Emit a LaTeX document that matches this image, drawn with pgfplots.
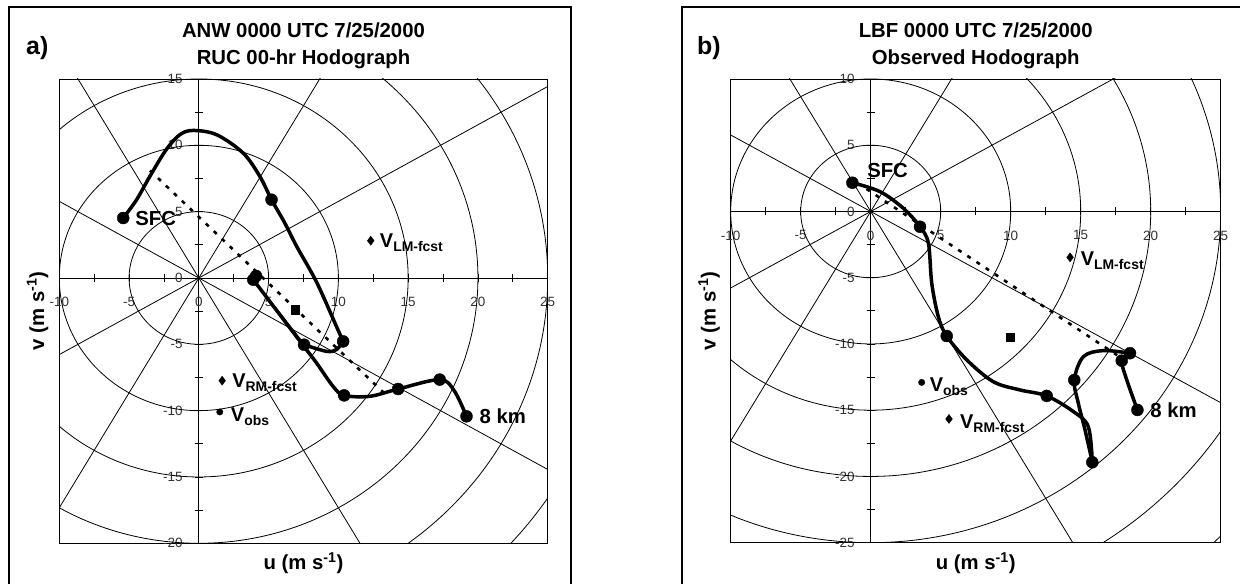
\documentclass[border=0pt]{standalone}
\usepackage{fontspec}
\setmainfont{Liberation Sans}
\usepackage{pgfplots}
\pgfplotsset{compat=1.18}

\newcommand{\vlab}[1]{{\fontsize{20}{20}\selectfont\bfseries V}\raisebox{-4bp}{\fontsize{14}{14}\selectfont\bfseries #1}}
\newcommand{\bigf}{\fontsize{20.4}{24}\selectfont\bfseries}

\tikzset{
  gridl/.style={line width=0.8bp, black},
  dotted line/.style={line width=2.6bp, black, dash pattern=on 4bp off 7bp},
}
\pgfplotsset{
  hodo/.style={
    scale only axis,
    axis lines=middle,
    axis line style={-, line width=0.9bp, black},
    xmin=-10, xmax=25,
    xtick={-10,-5,...,25},
    minor xtick={-7.5,-2.5,...,22.5},
    tick align=center,
    major tick length=8bp, minor tick length=8bp,
    tick style={black, line width=0.8bp},
    hide obscured x ticks=false, hide obscured y ticks=false,
    /pgf/number format/assume math mode=true,
    ticklabel style={font=\fontsize{13.5}{13.5}\selectfont, text=black!80},
    xticklabel style={inner sep=0pt, anchor=north, yshift=-15bp},
    yticklabel style={inner sep=0pt, anchor=east, xshift=-12bp},
    clip=true,
  },
  curve/.style={line width=3.5bp, black, smooth, tension=0.55},
  dots/.style={only marks, mark=*, mark size=6bp, black},
}

\begin{document}
\begin{tikzpicture}[x=1bp,y=1bp]
\useasboundingbox (0,0) rectangle (1240,584);
% outer frames
\draw[line width=2.2bp] (9.3,-5) -- (9.3,577) -- (571,577) -- (571,-5);
\draw[line width=2.2bp] (681.7,-5) -- (681.7,577) -- (1250,577);
% panel labels and titles
\node[anchor=base west, inner sep=0pt, font=\fontsize{25}{25}\selectfont\bfseries] at (26,529) {a)};
\node[anchor=base west, inner sep=0pt, font=\fontsize{25}{25}\selectfont\bfseries] at (697,529) {b)};
\node[anchor=base, inner sep=0pt, font=\bigf] at (303.5,546.7) {ANW 0000 UTC 7/25/2000};
\node[anchor=base, inner sep=0pt, font=\bigf] at (303.5,519.2) {RUC 00-hr Hodograph};
\node[anchor=base, inner sep=0pt, font=\bigf] at (975.7,546.7) {LBF 0000 UTC 7/25/2000};
\node[anchor=base, inner sep=0pt, font=\bigf] at (975.7,519.2) {Observed Hodograph};
% axis labels
\node[inner sep=0pt, font=\bigf] at (303.5,21) {u (m s\textsuperscript{-1})};
\node[inner sep=0pt, font=\bigf] at (975.7,21) {u (m s\textsuperscript{-1})};
\node[inner sep=0pt, font=\bigf, rotate=90] at (37.6,273) {v (m s\textsuperscript{-1})};
\node[inner sep=0pt, font=\bigf, rotate=90] at (709,273) {v (m s\textsuperscript{-1})};
% plot frames
\draw[line width=0.9bp] (59.3,40.7) rectangle (547.7,505);
\draw[line width=0.9bp] (730.7,41.3) rectangle (1220.7,505);

% ---------------- panel a ----------------
\begin{axis}[hodo, at={(59.3bp,40.7bp)}, anchor=south west,
  width=488.4bp, height=464.3bp,
  ymin=-20, ymax=15, ytick={-20,-15,...,15}, minor ytick={-17.5,-12.5,...,12.5}]
\draw[gridl] (axis cs:0,0) ellipse [x radius=5, y radius=5];
\draw[gridl] (axis cs:0,0) ellipse [x radius=10, y radius=10];
\draw[gridl] (axis cs:0,0) ellipse [x radius=15, y radius=15];
\draw[gridl] (axis cs:0,0) ellipse [x radius=20, y radius=20];
\draw[gridl] (axis cs:0,0) ellipse [x radius=25, y radius=25];
\draw[gridl] (axis cs:0,0) ellipse [x radius=30, y radius=30];
\draw[gridl] (axis cs:0,0) ellipse [x radius=35, y radius=35];
\draw[gridl] (axis cs:-43.30,-25) -- (axis cs:43.30,25);
\draw[gridl] (axis cs:-25,-43.30) -- (axis cs:25,43.30);
\draw[gridl] (axis cs:25,-43.30) -- (axis cs:-25,43.30);
\draw[gridl] (axis cs:43.30,-25) -- (axis cs:-43.30,25);
% mean-shear dotted line
\addplot[dotted line] coordinates {(-3.5,8.1) (13.3,-8.7)};
% hodograph
\addplot[curve] coordinates {(-5.42,4.52) (-4.46,5.90) (-3.51,7.66) (-2.34,9.67) (-1.36,10.80) (-0.41,11.12) (1.27,10.80) (3.17,9.42) (4.37,7.66) (5.21,5.90) (6.16,4.14) (7.00,2.40) (8.43,-0.30) (9.86,-3.65) (10.34,-4.78)};
\addplot[curve] coordinates {(10.34,-4.78) (9.86,-5.40) (9.15,-5.53) (7.54,-5.03)};
\addplot[line width=2bp, black] coordinates {(7.54,-5.03) (3.9,-0.13)};
\addplot[curve] coordinates {(3.9,-0.13) (7.54,-5.17) (8.43,-6.40) (9.62,-8.17) (10.41,-8.85) (12.25,-8.92) (14.28,-8.37) (17.26,-7.66) (18.3,-8.5) (19.18,-10.43)};
\addplot[dots] coordinates {(5.21,5.90) (10.34,-4.78) (7.54,-5.03) (3.9,-0.13) (4.1,0.15) (10.41,-8.85) (14.28,-8.37) (17.26,-7.66) (19.18,-10.43)};
\addplot[dots] coordinates {(-5.42,4.52)};
% other vectors
\addplot[only marks, mark=diamond*, mark size=4.5bp, black] coordinates {(12.32,2.81) (1.67,-7.74)};
\addplot[only marks, mark=*, mark size=3.2bp, black] coordinates {(1.5,-10.1)};
\addplot[only marks, mark=square*, mark size=4.2bp, black] coordinates {(6.92,-2.39)};
% labels
\node[anchor=west, inner sep=0pt, font=\bigf, xshift=12bp] at (axis cs:-5.42,4.52) {SFC};
\node[anchor=west, inner sep=0pt, font=\bigf, xshift=13bp] at (axis cs:19.18,-10.43) {8 km};
\node[anchor=base west, inner sep=0pt, xshift=9bp, yshift=-7.2bp] at (axis cs:12.32,2.81) {\vlab{LM-fcst}};
\node[anchor=base west, inner sep=0pt, xshift=10bp, yshift=-7.2bp] at (axis cs:1.67,-7.74) {\vlab{RM-fcst}};
\node[anchor=base west, inner sep=0pt, xshift=11bp, yshift=-9.2bp] at (axis cs:1.5,-10.1) {\vlab{obs}};
\end{axis}

% ---------------- panel b ----------------
\begin{axis}[hodo, at={(730.7bp,41.3bp)}, anchor=south west,
  width=490bp, height=463.7bp,
  ymin=-25, ymax=10, ytick={-25,-20,...,10}, minor ytick={-22.5,-17.5,...,7.5}]
\draw[gridl] (axis cs:0,0) ellipse [x radius=5, y radius=5];
\draw[gridl] (axis cs:0,0) ellipse [x radius=10, y radius=10];
\draw[gridl] (axis cs:0,0) ellipse [x radius=15, y radius=15];
\draw[gridl] (axis cs:0,0) ellipse [x radius=20, y radius=20];
\draw[gridl] (axis cs:0,0) ellipse [x radius=25, y radius=25];
\draw[gridl] (axis cs:0,0) ellipse [x radius=30, y radius=30];
\draw[gridl] (axis cs:0,0) ellipse [x radius=35, y radius=35];
\draw[gridl] (axis cs:-43.30,-25) -- (axis cs:43.30,25);
\draw[gridl] (axis cs:-25,-43.30) -- (axis cs:25,43.30);
\draw[gridl] (axis cs:25,-43.30) -- (axis cs:-25,43.30);
\draw[gridl] (axis cs:43.30,-25) -- (axis cs:-43.30,25);
\addplot[dotted line] coordinates {(-0.3,1.7) (17.6,-10.85)};
\addplot[curve] coordinates {(-1.31,2.17) (0.66,1.50) (2.33,0.24) (3.52,-1.15) (4.12,-2.40) (4.36,-5.42) (4.83,-7.94) (5.43,-9.40) (6.86,-11.20) (8.76,-12.85) (10.66,-13.47) (12.57,-13.92) (14.47,-15.10) (15.54,-16.24) (15.83,-18.93)};
\addplot[curve] coordinates {(15.83,-18.93) (15.31,-16.50) (14.83,-14.48) (14.54,-12.72) (15.19,-10.96) (16.61,-10.50) (18.52,-10.70)};
\addplot[curve] coordinates {(18.52,-10.70) (17.93,-11.26) (18.29,-12.72) (19.05,-14.98)};
\addplot[dots] coordinates {(3.52,-1.15) (5.43,-9.40) (12.57,-13.92) (15.83,-18.93) (14.54,-12.72) (18.52,-10.70) (17.93,-11.26) (19.05,-14.98)};
\addplot[dots] coordinates {(-1.31,2.17)};
\addplot[only marks, mark=diamond*, mark size=4.5bp, black] coordinates {(14.24,-3.46) (5.59,-15.66)};
\addplot[only marks, mark=*, mark size=3.2bp, black] coordinates {(3.64,-12.9)};
\addplot[only marks, mark=square*, mark size=4.2bp, black] coordinates {(9.95,-9.5)};
\node[inner sep=0pt, font=\bigf, xshift=35.2bp, yshift=12.7bp] at (axis cs:-1.31,2.17) {SFC};
\node[anchor=west, inner sep=0pt, font=\bigf, xshift=12.7bp] at (axis cs:19.05,-14.98) {8 km};
\node[anchor=base west, inner sep=0pt, xshift=10.5bp, yshift=-8.2bp] at (axis cs:14.24,-3.46) {\vlab{LM-fcst}};
\node[anchor=base west, inner sep=0pt, xshift=11bp, yshift=-9.7bp] at (axis cs:5.59,-15.66) {\vlab{RM-fcst}};
\node[anchor=base west, inner sep=0pt, xshift=8bp, yshift=-9.1bp] at (axis cs:3.64,-12.9) {\vlab{obs}};
\end{axis}
\end{tikzpicture}
\end{document}
